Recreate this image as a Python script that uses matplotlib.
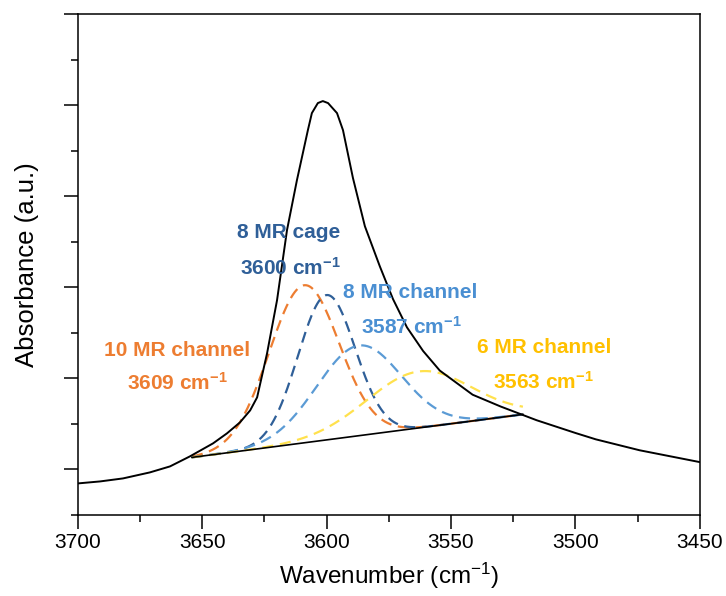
import numpy as np
import matplotlib
matplotlib.use("Agg")
import matplotlib.pyplot as plt
from matplotlib.ticker import MultipleLocator, NullFormatter

plt.rcParams['font.family'] = ['Liberation Sans', 'DejaVu Sans']
plt.rcParams['mathtext.fontset'] = 'custom'
plt.rcParams['mathtext.rm'] = 'Liberation Sans'
plt.rcParams['mathtext.bf'] = 'Liberation Sans:bold'
plt.rcParams['mathtext.it'] = 'Liberation Sans:italic'

# measured OH stretching band
wavenumber = [3700, 3691.0, 3681.8, 3671.0, 3662.9, 3654.9, 3645.6, 3640.0, 3634.8,
              3630.7, 3627.9, 3623.9, 3619.9, 3615.9, 3611.9, 3607.5, 3605.9,
              3603.5, 3601.5, 3599.4, 3595.8, 3593.4, 3589.4, 3584.6, 3578.6,
              3573.3, 3567.7, 3561.2, 3554.5, 3541.3, 3530.0, 3515.6, 3500.0,
              3491.8, 3474.2, 3450]
absorbance = [-0.154, -0.132, -0.099, -0.033, 0.033, 0.143, 0.286, 0.396, 0.516,
              0.648, 0.791, 1.275, 1.857, 2.626, 3.176, 3.725, 3.912,
              4.022, 4.044, 4.022, 3.912, 3.725, 3.200, 2.670, 2.230,
              1.870, 1.560, 1.300, 1.085, 0.820, 0.690, 0.540, 0.400,
              0.330, 0.210, 0.080]

# linear baseline used for the deconvolution
base_w = [3654.1, 3521.1]
base_a = [0.132, 0.604]

# fitted components: centre, height above baseline, gaussian sigma
labels = ['10 MR channel', '8 MR cage', '8 MR channel', '6 MR channel']
centers = [3609, 3600, 3587, 3563]
heights = [1.73, 1.59, 0.99, 0.62]
sigmas = [14.0, 11.5, 17.0, 21.0]
line_colors = ['#ED7D31', '#2F5F98', '#5B9BD5', '#FFE14D']
text_colors = ['#ED7D31', '#2F5F98', '#4A8FD2', '#FFC000']
label_pos = [(3660.0, 1.31), (3615.1, 2.60), (3566.4, 1.945), (3512.5, 1.34)]
peak_pos = [(3660.0, 0.945), (3614.7, 2.21), (3566.1, 1.56), (3512.7, 0.956)]

fig = plt.figure(figsize=(7.26, 5.96), dpi=100)
ax = fig.add_axes([0.107, 0.136, 0.857, 0.8405])

ax.plot(wavenumber, absorbance, color='black', lw=1.4, zorder=3)
ax.plot(base_w, base_a, color='black', lw=1.2, zorder=3)

w = np.linspace(base_w[0], base_w[1], 400)
baseline = np.interp(w, base_w[::-1], base_a[::-1])
for c, h, s, col in zip(centers, heights, sigmas, line_colors):
    comp = baseline + h * np.exp(-(w - c) ** 2 / (2 * s ** 2))
    ax.plot(w, comp, color=col, lw=1.6, linestyle=(0, (5, 3)), zorder=2)

for lab, c, p, q, col in zip(labels, centers, label_pos, peak_pos, text_colors):
    ax.text(p[0], p[1], lab, color=col, fontsize=15, fontweight='bold',
            ha='center', va='center')
    ax.text(q[0], q[1], r'%d cm$^{\mathbf{-1}}$' % c, color=col, fontsize=15,
            fontweight='bold', ha='center', va='center')

ax.set_xlim(3700, 3450)
ax.set_ylim(-0.5, 5.0)
ax.xaxis.set_major_locator(MultipleLocator(50))
ax.xaxis.set_minor_locator(MultipleLocator(25))
ax.yaxis.set_major_locator(MultipleLocator(1))
ax.yaxis.set_minor_locator(MultipleLocator(0.5))
ax.yaxis.set_major_formatter(NullFormatter())
ax.tick_params(which='major', direction='out', length=10, width=1.1, labelsize=15)
ax.tick_params(which='minor', direction='out', length=5, width=1.1)
ax.tick_params(axis='x', pad=3)
for sp in ax.spines.values():
    sp.set_linewidth(1.1)

ax.set_xlabel('Wavenumber (cm$^{-1}$)', fontsize=17.5, labelpad=6)
ax.set_ylabel('Absorbance (a.u.)', fontsize=18.5, labelpad=14)

fig.savefig('out.png', dpi=100)
